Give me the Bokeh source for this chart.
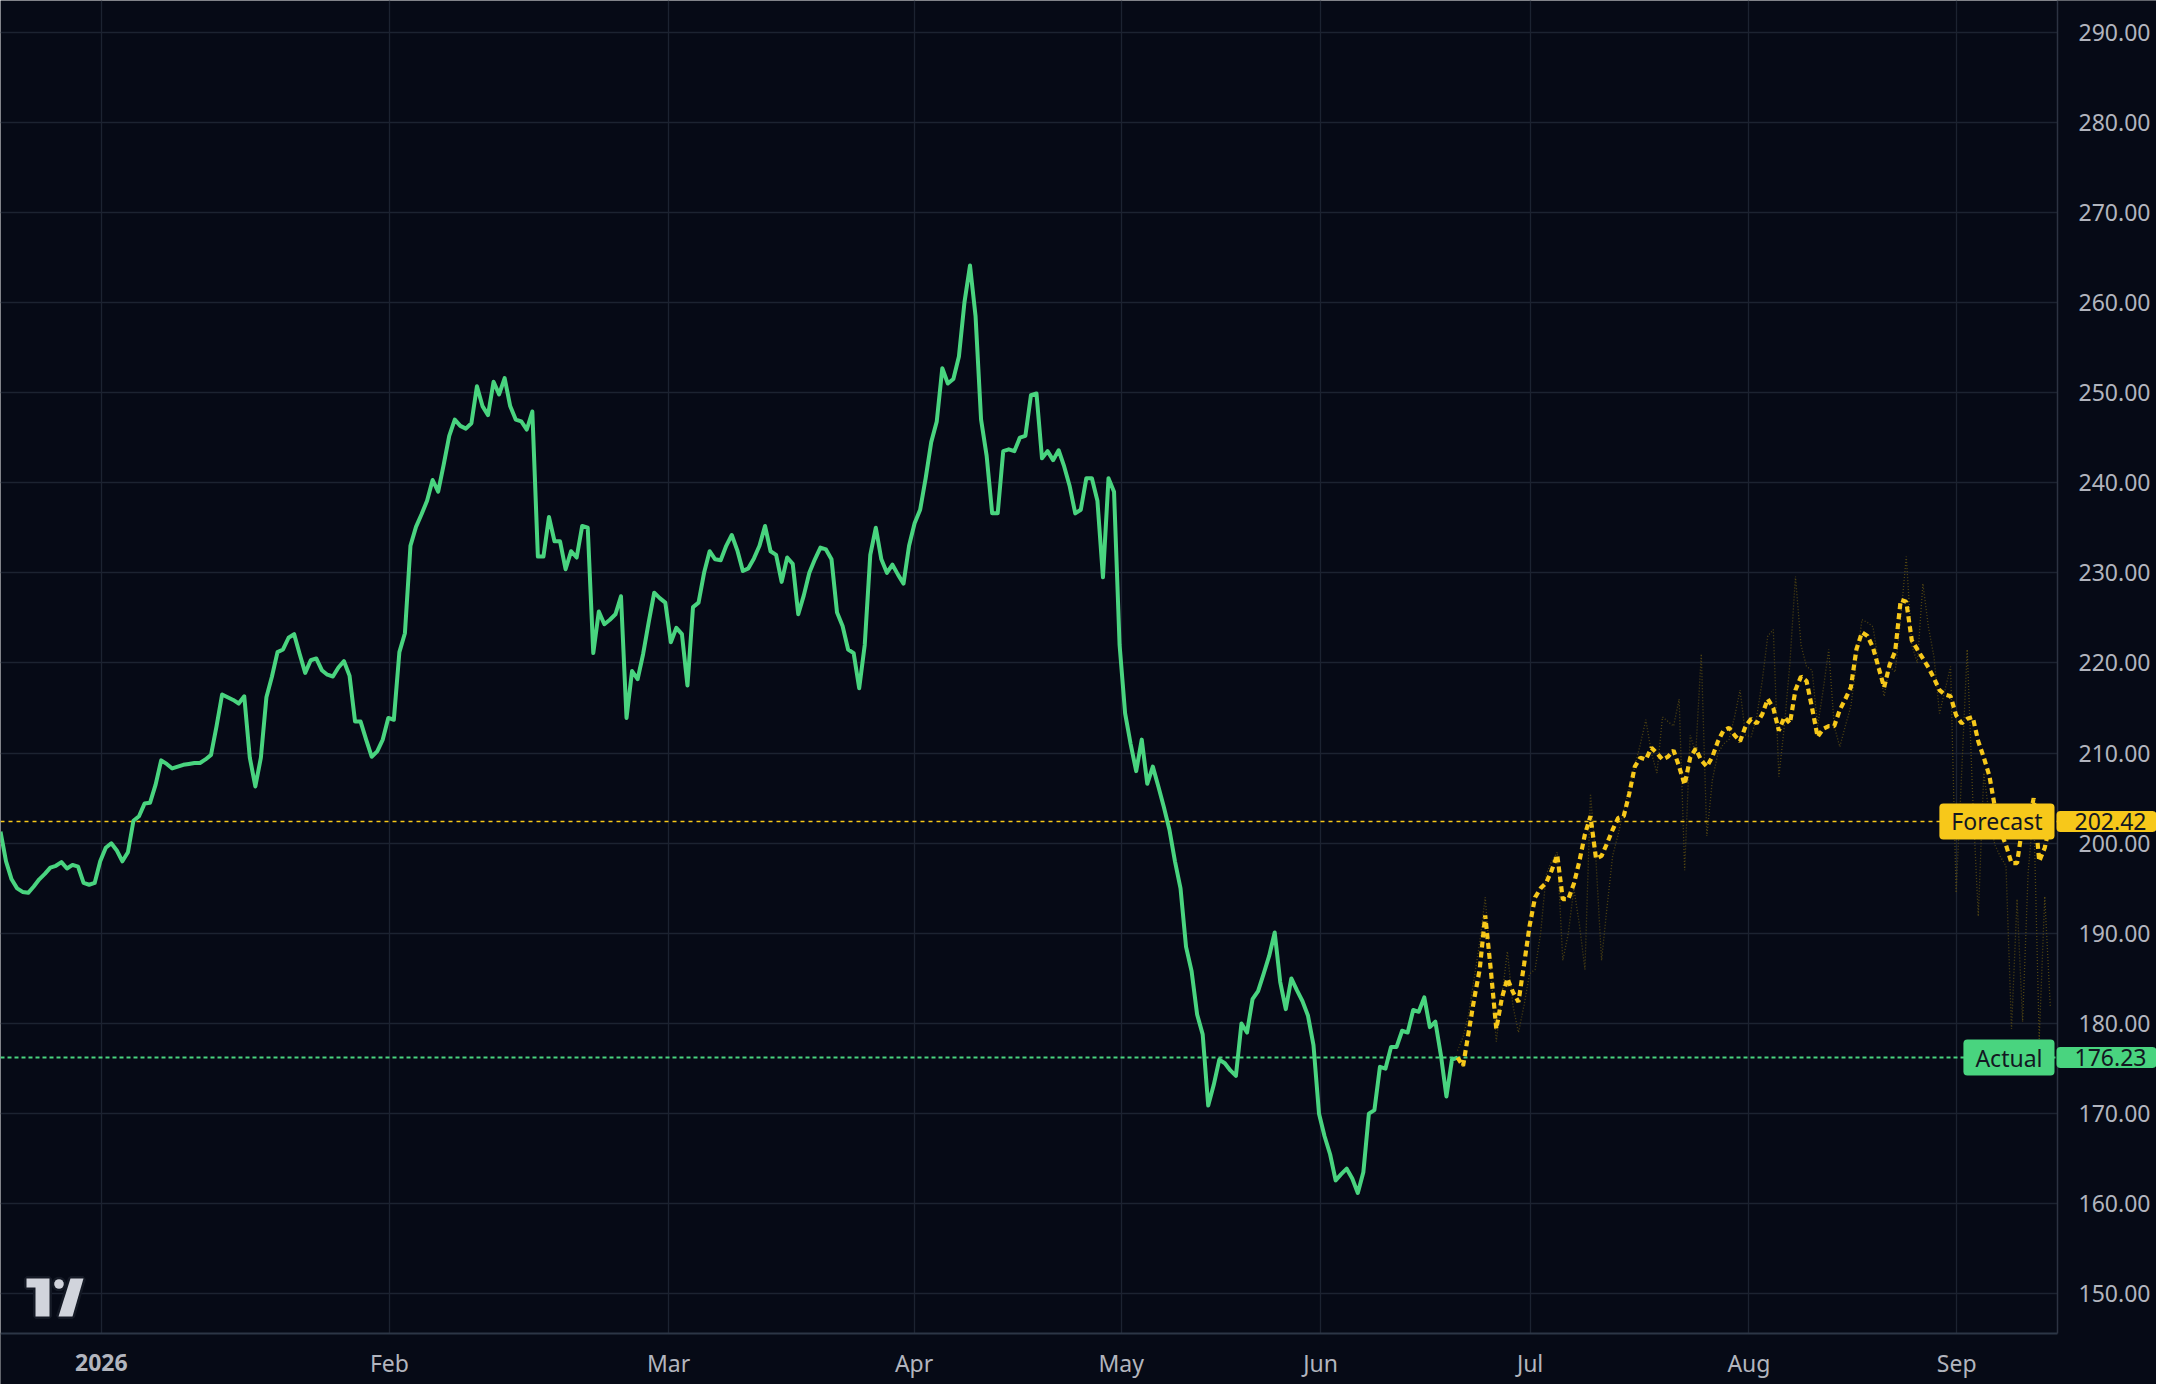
import math
from bokeh.plotting import figure
from bokeh.models import (Range1d, FixedTicker, PrintfTickFormatter, Span, Label,
                          PolyAnnotation, BoxAnnotation)
from bokeh.embed import file_html
from bokeh.resources import INLINE

# ---------------- data (one value per bar) ----------------
actual = [
    201.3, 198.0, 196.0, 195.0, 194.6, 194.5, 195.2, 196.0, 196.6, 197.3,
    197.5, 197.9, 197.2, 197.6, 197.4, 195.6, 195.4, 195.6, 198.0, 199.5,
    200.0, 199.2, 198.0, 199.0, 202.5, 203.0, 204.4, 204.5, 206.5, 209.2,
    208.8, 208.3, 208.5, 208.7, 208.8, 208.9, 208.9, 209.3, 209.8, 213.0,
    216.5, 216.2, 215.9, 215.5, 216.3, 209.5, 206.3, 209.5, 216.2, 218.5,
    221.2, 221.5, 222.8, 223.2, 221.0, 218.9, 220.3, 220.5, 219.2, 218.7,
    218.5, 219.5, 220.2, 218.6, 213.5, 213.5, 211.5, 209.6, 210.2, 211.5,
    213.9, 213.7, 221.2, 223.3, 233.0, 235.1, 236.5, 238.0, 240.3, 239.0,
    242.0, 245.2, 247.0, 246.3, 246.0, 246.6, 250.7, 248.5, 247.5, 251.2,
    249.8, 251.6, 248.5, 247.0, 246.8, 245.9, 247.9, 231.8, 231.8, 236.2,
    233.5, 233.5, 230.4, 232.4, 231.7, 235.2, 235.0, 221.1, 225.7, 224.3,
    224.8, 225.4, 227.4, 213.9, 219.1, 218.2, 221.0, 224.5, 227.8, 227.2,
    226.7, 222.3, 223.9, 223.2, 217.5, 226.2, 226.7, 230.0, 232.4, 231.5,
    231.4, 233.0, 234.2, 232.5, 230.2, 230.5, 231.6, 233.0, 235.2, 232.4,
    232.0, 229.0, 231.7, 231.0, 225.4, 227.5, 230.0, 231.5, 232.8, 232.6,
    231.5, 225.6, 224.1, 221.5, 221.1, 217.2, 222.0, 232.0, 235.0, 231.5,
    230.0, 230.9, 229.8, 228.8, 233.0, 235.5, 237.0, 240.5, 244.5, 246.8,
    252.7, 251.0, 251.5, 254.0, 260.0, 264.1, 258.5, 247.0, 243.0, 236.6,
    236.6, 243.5, 243.7, 243.5, 245.0, 245.2, 249.7, 249.9, 242.7, 243.5,
    242.5, 243.6, 241.8, 239.6, 236.6, 237.0, 240.5, 240.5, 238.0, 229.5,
    240.5, 239.0, 222.0, 214.4, 211.0, 208.0, 211.5, 206.6, 208.5, 206.3,
    204.0, 201.5, 198.0, 195.0, 188.5, 185.8, 181.0, 178.8, 170.9, 173.2,
    176.0, 175.6, 174.8, 174.2, 180.0, 179.0, 182.7, 183.6, 185.5, 187.5,
    190.1, 184.6, 181.6, 185.0, 183.7, 182.5, 180.9, 177.6, 170.0, 167.5,
    165.5, 162.6, 163.3, 163.9, 162.8, 161.2, 163.5, 170.0, 170.4, 175.2,
    175.0, 177.4, 177.4, 179.2, 179.0, 181.5, 181.3, 182.9, 179.6, 180.2,
    176.5, 171.9, 176.0, 176.23,
]

forecast = [
    176.23, 175.3, 179.0, 182.7, 186.0, 192.0, 186.0, 179.4, 182.8, 185.0,
    183.5, 182.4, 186.5, 190.8, 194.0, 195.0, 195.6, 197.0, 198.7, 193.8,
    193.8, 195.5, 198.0, 201.0, 203.0, 198.3, 198.6, 200.0, 201.5, 202.8,
    203.0, 205.5, 208.5, 209.5, 209.3, 210.6, 210.0, 209.3, 209.6, 210.3,
    208.5, 206.5, 209.5, 210.5, 209.2, 208.5, 209.6, 211.3, 212.5, 212.8,
    212.0, 211.3, 213.0, 213.8, 213.3, 214.3, 216.0, 215.0, 212.5, 214.0,
    213.3, 217.0, 218.5, 218.0, 215.0, 211.8, 212.7, 213.0, 213.0, 214.8,
    216.0, 217.3, 221.5, 223.4, 223.0, 221.7, 219.5, 217.3, 219.8, 221.3,
    227.0, 226.8, 222.5, 221.5, 220.5, 219.5, 218.3, 217.0, 216.5, 216.3,
    214.2, 213.3, 213.8, 214.0, 211.3, 209.5, 207.5, 204.0, 201.3, 199.8,
    197.8, 197.8, 202.0, 202.0, 205.0, 198.0, 199.5, 202.42,
]

forecast_raw = [
    177.0, 178.5, 181.0, 185.0, 189.0, 194.0, 186.0, 178.0, 183.0, 188.0,
    182.0, 179.0, 182.0, 185.5, 186.0, 190.0, 196.5, 198.0, 199.0, 187.0,
    190.0, 195.0, 191.0, 186.0, 205.5, 198.0, 187.0, 193.0, 198.6, 201.0,
    203.7, 206.0, 208.5, 211.0, 213.7, 210.0, 207.8, 214.0, 213.5, 213.0,
    216.0, 197.0, 212.0, 210.0, 221.0, 200.8, 207.0, 210.0, 211.0, 211.5,
    214.0, 217.0, 212.0, 211.8, 214.0, 218.0, 223.0, 223.7, 207.4, 213.0,
    220.0, 229.6, 222.0, 219.6, 219.2, 213.0, 217.0, 221.5, 213.0, 210.7,
    213.0, 215.2, 220.0, 224.8, 224.5, 224.0, 220.0, 216.3, 219.6, 219.0,
    225.0, 231.8, 222.0, 220.0, 228.8, 224.0, 220.7, 214.4, 217.0, 219.6,
    194.5, 207.8, 221.5, 205.0, 191.9, 207.8, 203.0, 199.8, 198.5, 197.5,
    179.4, 193.8, 180.2, 196.7, 204.0, 178.3, 194.1, 181.9,
]

month_bars = [18.2, 70.2, 120.6, 164.9, 202.3, 238.3, 276.1, 315.6, 353.1]
month_labels = ["2026", "Feb", "Mar", "Apr", "May", "Jun", "Jul", "Aug", "Sep"]
price_ticks = [150, 160, 170, 180, 190, 200, 210, 220, 230, 240, 250, 260, 270, 280, 290]
actual_last = 176.23
forecast_last = 202.42

actual_x = list(range(len(actual)))
f0 = len(actual) - 1
forecast_x = [f0 + i for i in range(len(forecast))]
raw_x = [f0 + i for i in range(len(forecast_raw))]

# ---------------- layout / style ----------------
W, H = 2156, 1384              # whole figure = frame
PX_PER_BAR = 5.54
PX_PER_UNIT = 9.014
TOP_VALUE_PX = 31.5            # pixel row of the 290 line
AXIS_X_PX, AXIS_Y_PX = 2057, 1333

X_START = 0.0
X_END = W / PX_PER_BAR
X_AX = AXIS_X_PX / PX_PER_BAR
Y_END = 290 + TOP_VALUE_PX / PX_PER_UNIT
Y_START = Y_END - H / PX_PER_UNIT
Y_AX = Y_END - AXIS_Y_PX / PX_PER_UNIT

BG = "#060a16"
GRID = "#1c2331"
TXT = "#b2b5be"
GREEN = "#49d47f"
YELLOW = "#f7c81a"
FONT = "Noto Sans"
FS = "23px"

p = figure(frame_width=W, frame_height=H,
           x_range=Range1d(X_START, X_END), y_range=Range1d(Y_START, Y_END),
           y_axis_location="right", output_backend="svg", toolbar_location=None,
           min_border=0)
p.background_fill_color = BG
p.border_fill_color = BG
p.outline_line_color = None

# axes (drawn at fixed positions inside the canvas, like the reference's price/time scales)
p.xaxis.ticker = FixedTicker(ticks=month_bars)
p.xaxis.major_label_overrides = {b: ("" if i == 0 else lab)
                                 for i, (b, lab) in enumerate(zip(month_bars, month_labels))}
p.yaxis.ticker = FixedTicker(ticks=price_ticks)
p.yaxis.formatter = PrintfTickFormatter(format="%.2f")
for ax in (p.xaxis[0], p.yaxis[0]):
    ax.major_tick_line_color = None
    ax.minor_tick_line_color = None
    ax.major_label_text_color = TXT
    ax.major_label_text_font = FONT
    ax.major_label_text_font_size = FS
p.xaxis.fixed_location = Y_AX
p.yaxis.fixed_location = X_AX
p.xaxis.bounds = (X_START, X_AX)
p.yaxis.bounds = (Y_AX, Y_END)
p.xaxis.axis_line_color = "#2c3646"
p.xaxis.axis_line_width = 2
p.yaxis.axis_line_color = "#2c3342"
p.yaxis.axis_line_width = 1.5
p.yaxis.major_label_standoff = 15
p.xaxis.major_label_standoff = 7

p.xgrid.grid_line_color = GRID
p.ygrid.grid_line_color = GRID
p.xgrid.grid_line_width = 1.3
p.ygrid.grid_line_width = 1.3

# price lines
p.add_layout(Span(location=forecast_last, dimension="width", line_color=YELLOW,
                  line_width=1.6, line_dash="4 4", level="underlay"))
p.add_layout(Span(location=actual_last, dimension="width", line_color=GREEN,
                  line_width=1.8, line_dash="4 3", level="underlay"))

# scale areas (cover grid outside the pane)
p.add_layout(BoxAnnotation(left=X_AX, fill_color=BG, fill_alpha=1.0, line_color=None,
                           level="underlay"))
p.add_layout(BoxAnnotation(top=Y_AX, fill_color=BG, fill_alpha=1.0, line_color=None,
                           level="underlay"))

# series
p.line(raw_x, forecast_raw, line_color="#5b4c12", line_width=1.3, line_dash="1 2",
       line_alpha=0.9)
p.line(actual_x, actual, line_color=GREEN, line_width=4, line_join="round")
p.line(forecast_x, forecast, line_color=YELLOW, line_width=4.2, line_dash="6 4")

# bold year label
p.add_layout(Label(x=month_bars[0], y=Y_AX, y_offset=-28.5, text=month_labels[0],
                   text_align="center", text_baseline="middle", text_color=TXT,
                   text_font=FONT, text_font_size=FS, text_font_style="bold"))

# price badges
def badge(y, text, color, align, xoff, pad):
    p.add_layout(Label(x=X_AX, y=y, x_offset=xoff, text=text, text_align=align,
                       text_baseline="middle", text_color="#131722", text_font=FONT,
                       text_font_size=FS, background_fill_color=color,
                       border_radius=4, padding=pad))

badge(forecast_last, "Forecast", YELLOW, "right", -3, dict(left=12, right=12, top=2, bottom=2))
badge(forecast_last, f"{forecast_last:.2f}", YELLOW, "left", -1, dict(left=18, right=10, top=2, bottom=2))
badge(actual_last, "Actual", GREEN, "right", -3, dict(left=12, right=12, top=2, bottom=2))
badge(actual_last, f"{actual_last:.2f}", GREEN, "left", -1, dict(left=18, right=10, top=2, bottom=2))

# TradingView logo (decoration: canvas pixels converted to data)
def dx(px):
    return X_START + px / PX_PER_BAR
def dy(py):
    return Y_END - py / PX_PER_UNIT

logo_T = [(26, 1278), (49, 1278), (49, 1316), (35, 1316), (35, 1287), (26, 1287)]
logo_S = [(70, 1278), (83, 1278), (72, 1316), (58, 1316)]
logo_D = [(58.5 + 4.8 * math.cos(a * math.pi / 8), 1283.5 + 4.8 * math.sin(a * math.pi / 8))
          for a in range(16)]
for shape in (logo_T, logo_S, logo_D):
    xs = [dx(a) for a, b in shape]
    ys = [dy(b) for a, b in shape]
    p.add_layout(PolyAnnotation(xs=xs, ys=ys, fill_color="#d1d4dc", fill_alpha=1.0,
                                line_color="#141925", line_width=5, line_alpha=1.0))
for shape in (logo_T, logo_S, logo_D):
    xs = [dx(a) for a, b in shape]
    ys = [dy(b) for a, b in shape]
    p.add_layout(PolyAnnotation(xs=xs, ys=ys, fill_color="#d1d4dc", fill_alpha=1.0,
                                line_color=None))

open("out.html", "w").write(file_html(p, INLINE))
